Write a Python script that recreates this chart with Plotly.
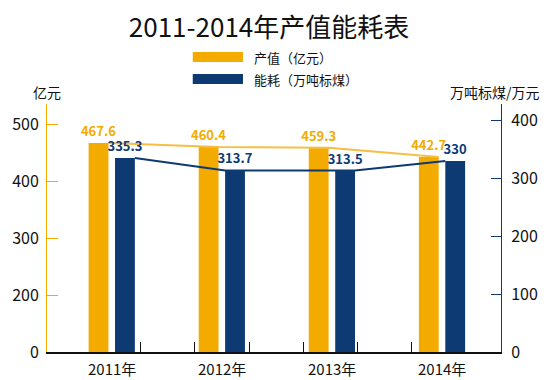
import plotly.graph_objects as go

# ---------------- data ----------------
years = ["2011年", "2012年", "2013年", "2014年"]
output_value = [467.6, 460.4, 459.3, 442.7]      # 产值（亿元）
energy = [335.3, 313.7, 313.5, 330]              # 能耗（万吨标煤）
left_tickvals = [100, 200, 300, 400, 500]
left_ticktext = ["0", "200", "300", "400", "500"]
right_tickvals = [0, 100, 200, 300, 400]
x_tick_marks = [0.26, 0.75, 1.25, 1.74, 2.23, 2.72]
series_names = ["产值（亿元）", "能耗（万吨标煤）"]
title_text = "2011-2014年产值能耗表"
left_unit = "亿元"
right_unit = "万吨标煤/万元"

# ---------------- style ----------------
ORANGE = "#F3AB00"
ORANGE_LINE = "#F6BE45"
BLUE = "#0D3A73"
DARK = "#111111"
FONT = "Noto Sans CJK SC"

W, H = 550, 380
ML, MR, MT, MB = 44, 45, 104, 28
PW, PH = W - ML - MR, H - MT - MB


def px_x(px):
    return (px - ML) / PW


def px_y(py):
    return (H - MB - py) / PH


idx = list(range(len(years)))
bar_w = 0.18
orange_off = -0.21
blue_off = 0.03

fig = go.Figure()

fig.add_trace(go.Bar(
    x=idx, y=output_value, width=bar_w, offset=orange_off,
    marker=dict(color=ORANGE, line=dict(width=0)),
    text=[f"{v:g}" for v in output_value], textposition="outside",
    textfont=dict(color=ORANGE, size=13, family=FONT, weight="bold"),
    constraintext="none", cliponaxis=False,
    yaxis="y", name=series_names[0], showlegend=False, hoverinfo="skip",
))
fig.add_trace(go.Bar(
    x=idx, y=energy, width=bar_w, offset=blue_off,
    marker=dict(color=BLUE, line=dict(width=0)),
    text=[f"{v:g}" for v in energy], textposition="outside",
    textfont=dict(color=BLUE, size=13, family=FONT, weight="bold"),
    constraintext="none", cliponaxis=False,
    yaxis="y2", name=series_names[1], showlegend=False, hoverinfo="skip",
))

# trend lines joining the bar tops
fig.add_trace(go.Scatter(
    x=[i + orange_off + bar_w for i in idx], y=output_value,
    mode="lines", line=dict(color=ORANGE_LINE, width=2),
    yaxis="y", showlegend=False, hoverinfo="skip",
))
fig.add_trace(go.Scatter(
    x=[i + (blue_off + bar_w if i % 2 == 0 else blue_off) for i in idx], y=energy,
    mode="lines", line=dict(color=BLUE, width=2),
    yaxis="y2", showlegend=False, hoverinfo="skip",
))

annotations = []
for i, lab in enumerate(years):
    annotations.append(dict(
        x=i, y=px_y(368), xref="x", yref="paper", text=lab, showarrow=False,
        xanchor="center", yanchor="middle",
        font=dict(size=15, color=DARK, family=FONT),
    ))
annotations.append(dict(
    x=px_x(44.5), y=px_y(92), xref="paper", yref="paper", text=left_unit,
    showarrow=False, xanchor="center", yanchor="middle",
    font=dict(size=14, color=DARK, family=FONT),
))
annotations.append(dict(
    x=px_x(498.5), y=px_y(92), xref="paper", yref="paper", text=right_unit,
    showarrow=False, xanchor="center", yanchor="middle",
    font=dict(size=14, color=DARK, family=FONT),
))

# legend (wide swatches)
shapes = []
legend_rows = [(57, ORANGE), (79, BLUE)]
for (cy, col), name in zip(legend_rows, series_names):
    shapes.append(dict(
        type="rect", xref="paper", yref="paper",
        x0=px_x(192), x1=px_x(243), y0=px_y(cy - 5), y1=px_y(cy + 5),
        fillcolor=col, line=dict(width=0),
    ))
    annotations.append(dict(
        x=px_x(252), y=px_y(cy), xref="paper", yref="paper", text=name,
        showarrow=False, xanchor="left", yanchor="middle",
        font=dict(size=13, color=DARK, family=FONT),
    ))

fig.update_layout(
    width=W, height=H,
    margin=dict(l=ML, r=MR, t=MT, b=MB, pad=0),
    paper_bgcolor="white", plot_bgcolor="white",
    barmode="overlay",
    font=dict(family=FONT, color=DARK),
    title=dict(
        text=title_text, x=269 / W, xanchor="center", xref="paper",
        y=1 - 28 / H, yanchor="middle", yref="container",
        font=dict(size=26, color=DARK, family=FONT),
    ),
    xaxis=dict(
        range=[-0.588, 3.536], tickmode="array", tickvals=x_tick_marks,
        ticktext=[""] * len(x_tick_marks), ticks="inside", ticklen=10,
        tickcolor=DARK, tickwidth=1, showline=True, linecolor=DARK,
        linewidth=1.5, showgrid=False, zeroline=False, fixedrange=True,
    ),
    yaxis=dict(
        range=[100, 536], tickmode="array", tickvals=left_tickvals,
        ticktext=left_ticktext, ticks="inside", ticklen=11,
        tickcolor=ORANGE, showline=True, linecolor=ORANGE, linewidth=1,
        showgrid=False, zeroline=False, ticklabelstandoff=4,
        tickfont=dict(size=16, color=DARK, family=FONT),
    ),
    yaxis2=dict(
        overlaying="y", side="right", range=[0, 428.6], tickmode="array",
        tickvals=right_tickvals, ticks="inside", ticklen=10,
        tickcolor=BLUE, showline=True, linecolor=BLUE, linewidth=1,
        showgrid=False, zeroline=False, ticklabelstandoff=6,
        tickfont=dict(size=16, color=DARK, family=FONT),
    ),
    annotations=annotations,
    shapes=shapes,
)

fig.write_html(
    "out.html",
    config={"displayModeBar": False},
    post_script="document.body.style.margin='0';document.body.style.padding='0';",
)
